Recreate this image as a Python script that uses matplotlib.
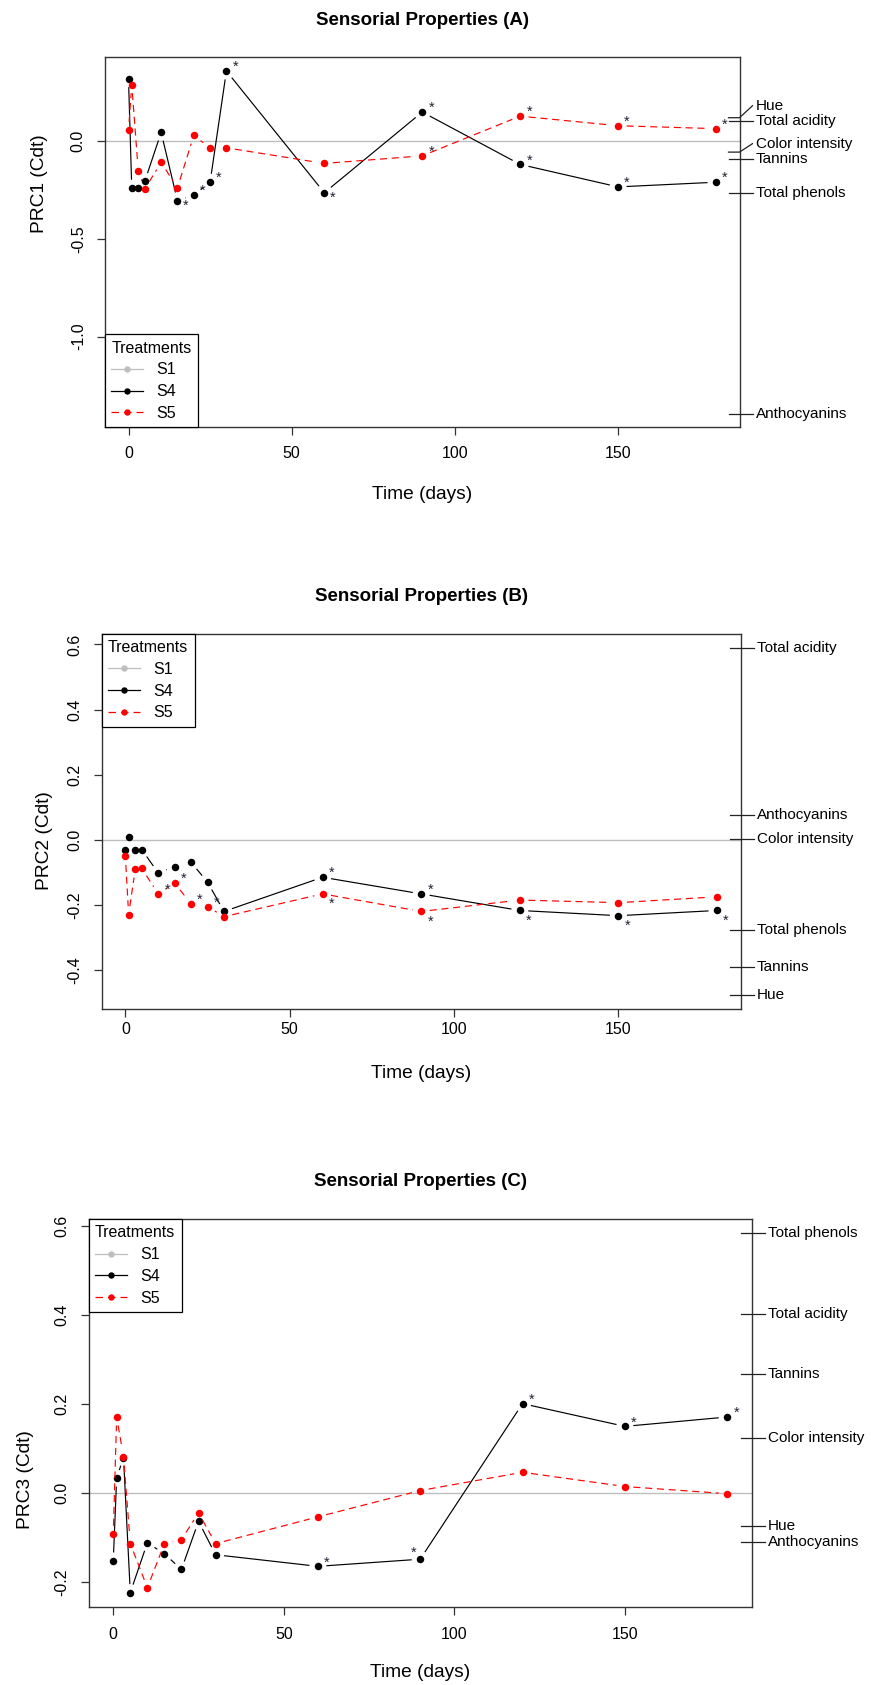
import numpy as np
import matplotlib
matplotlib.use("Agg")
import matplotlib.pyplot as plt
from matplotlib.collections import LineCollection
from matplotlib.lines import Line2D
from matplotlib.transforms import IdentityTransform

plt.rcParams['font.family'] = ['Liberation Sans', 'DejaVu Sans']

# ---------------- data ----------------
times = [0, 1, 3, 5, 10, 15, 20, 25, 30, 60, 90, 120, 150, 180]
treatments = ['S1', 'S4', 'S5']
xticks = [0, 50, 100, 150]

# Panel A (PRC1)
prc1_s4 = [0.320, -0.241, -0.241, -0.205, 0.045, -0.305, -0.274, -0.210, 0.359,
           -0.264, 0.149, -0.119, -0.234, -0.210]
prc1_s5 = [0.056, 0.289, -0.155, -0.244, -0.109, -0.239, 0.029, -0.034, -0.034,
           -0.114, -0.075, 0.128, 0.079, 0.064]
prc1_species = ['Hue', 'Total acidity', 'Color intensity', 'Tannins',
                'Total phenols', 'Anthocyanins']
prc1_scores = [0.120, 0.102, -0.056, -0.092, -0.263, -1.394]
prc1_yticks = [-1.0, -0.5, 0.0]
prc1_sig_s4 = [(15, 'r'), (20, 'ur'), (25, 'ur'), (30, 'ur'), (60, 'r'),
               (90, 'ur'), (120, 'ur'), (150, 'ur'), (180, 'ur')]
prc1_sig_s5 = [(90, 'ur'), (120, 'ur'), (150, 'ur'), (180, 'ur')]

# Panel B (PRC2)
prc2_s4 = [-0.032, 0.010, -0.030, -0.030, -0.102, -0.082, -0.069, -0.130, -0.220,
           -0.115, -0.166, -0.217, -0.233, -0.217]
prc2_s5 = [-0.051, -0.230, -0.090, -0.088, -0.166, -0.133, -0.197, -0.205, -0.236,
           -0.166, -0.220, -0.185, -0.193, -0.175]
prc2_species = ['Total acidity', 'Anthocyanins', 'Color intensity',
                'Total phenols', 'Tannins', 'Hue']
prc2_scores = [0.590, 0.076, 0.001, -0.276, -0.391, -0.476]
prc2_yticks = [-0.4, -0.2, 0.0, 0.2, 0.4, 0.6]
prc2_sig_s4 = [(60, 'ur'), (90, 'ur'), (120, 'lr'), (150, 'lr'), (180, 'lr')]
prc2_sig_s5 = [(10, 'ur'), (15, 'ur'), (20, 'ur'), (25, 'ur'), (60, 'lr'), (90, 'lr')]

# Panel C (PRC3)
prc3_s4 = [-0.152, 0.034, 0.080, -0.223, -0.111, -0.136, -0.171, -0.063, -0.138,
           -0.164, -0.148, 0.201, 0.150, 0.171]
prc3_s5 = [-0.092, 0.171, 0.082, -0.113, -0.212, -0.113, -0.104, -0.044, -0.113,
           -0.053, 0.006, 0.047, 0.015, -0.001]
prc3_species = ['Total phenols', 'Total acidity', 'Tannins', 'Color intensity',
                'Hue', 'Anthocyanins']
prc3_scores = [0.583, 0.402, 0.267, 0.123, -0.074, -0.109]
prc3_yticks = [-0.2, 0.0, 0.2, 0.4, 0.6]
prc3_sig_s4 = [(60, 'ur'), (90, 'ul'), (120, 'ur'), (150, 'ur'), (180, 'ur')]
prc3_sig_s5 = []

# ---------------- style / layout ----------------
W, H, DPI = 871, 1685, 100
COL_S1, COL_S4, COL_S5 = '#BEBEBE', 'black', 'red'
DASH = (0, (6, 4))
GAP = 8.5          # px gap around points (R type="b")
STACK_H = 15.5     # px min distance between right labels
AST_OFF = {'ur': (9, 7), 'lr': (9, -7), 'r': (8, -2), 'ul': (-7, 9)}

fig = plt.figure(figsize=(W / DPI, H / DPI), dpi=DPI)
fig.patch.set_facecolor('white')


def add_axes_px(L, T, R, B):
    return fig.add_axes([L / W, 1 - B / H, (R - L) / W, (B - T) / H])


def gapped(ax, x, y, color, ls, z):
    pts = ax.transData.transform(np.column_stack([x, y]))
    inv = ax.transData.inverted()
    segs = []
    for p0, p1 in zip(pts[:-1], pts[1:]):
        d = p1 - p0
        L = np.hypot(*d)
        if L <= 2 * GAP:
            continue
        u = d / L
        segs.append(inv.transform(np.array([p0 + u * GAP, p1 - u * GAP])))
    lc = LineCollection(segs, colors=color, linewidths=0.85, linestyles=[ls], zorder=z)
    ax.add_collection(lc)


def panel(rect, title, ylabel, s4, s5, sp_names, sp_scores, yticks, sig4, sig5,
          legend_loc, ylab_px, xlab_off, tick_off):
    L, T, R, B = rect
    ax = add_axes_px(L, T, R, B)
    wpx, hpx = R - L, B - T
    allv = list(s4) + list(s5) + list(sp_scores) + [0.0]
    lo, hi = min(allv), max(allv)
    pad = 0.04 * (hi - lo)
    ax.set_ylim(lo - pad, hi + pad)
    ax.set_xlim(min(times) - 0.04 * (max(times) - min(times)),
                max(times) + 0.04 * (max(times) - min(times)))

    for s in ax.spines.values():
        s.set_color('#333333')
        s.set_linewidth(1.0)

    ax.axhline(0, color=COL_S1, lw=1.0, zorder=1)

    gapped(ax, times, s4, COL_S4, 'solid', 2)
    ax.plot(times, s4, 'o', color=COL_S4, ms=5.4, mew=0, zorder=3)
    gapped(ax, times, s5, COL_S5, DASH, 4)
    ax.plot(times, s5, 'o', color=COL_S5, ms=5.4, mew=0, zorder=5)

    for sig, series in ((sig4, s4), (sig5, s5)):
        for t, code in sig:
            i = times.index(t)
            dx, dy = AST_OFF[code]
            ax.annotate('*', xy=(t, series[i]), xytext=(dx * 0.72, (dy - 7) * 0.72),
                        textcoords='offset points', ha='center', va='baseline',
                        fontsize=10.5, color='#222233', zorder=6)

    ax.set_xticks(xticks)
    ax.set_xticklabels([str(v) for v in xticks])
    ax.set_yticks(yticks)
    ax.set_yticklabels(['%.1f' % v for v in yticks], rotation=90, va='center')
    ax.tick_params(axis='y', labelsize=11.5, length=5.8, width=0.9, color='#333333', pad=8)
    tick_pad_px = tick_off - 8 - 8.6
    ax.tick_params(axis='x', labelsize=11.5, length=5.8, width=0.9, color='#333333',
                   pad=tick_pad_px * 0.72)

    ax.text(0.5, 1 + 37 / hpx, title, transform=ax.transAxes, ha='center',
            va='center', fontsize=13.5, fontweight='bold')
    ax.text(0.5, -xlab_off / hpx, 'Time (days)', transform=ax.transAxes,
            ha='center', va='center', fontsize=13.8)
    ax.text((ylab_px[0] - L) / wpx, 1 - (ylab_px[1] - T) / hpx, ylabel,
            transform=ax.transAxes, rotation=90, ha='center', va='center',
            fontsize=13.8)

    handles = [
        Line2D([], [], color=COL_S1, marker='o', ms=4.6, mew=0, lw=0.9),
        Line2D([], [], color=COL_S4, marker='o', ms=4.6, mew=0, lw=0.9),
        Line2D([], [], color=COL_S5, marker='o', ms=4.6, mew=0, lw=0.9, ls=DASH),
    ]
    leg = ax.legend(handles, treatments, loc=legend_loc, title='Treatments',
                    fontsize=11.5, title_fontsize=11.5, frameon=True, fancybox=False,
                    borderaxespad=0, borderpad=0.4, labelspacing=0.42,
                    handlelength=2.0, handletextpad=0.8, alignment='left')
    leg.get_frame().set_edgecolor('black')
    leg.get_frame().set_linewidth(0.9)
    leg.get_frame().set_alpha(1)
    leg.set_zorder(10)

    # species scores on right side (linestack-like)
    xr = ax.transAxes.transform((1, 0))[0]
    yd = np.array([ax.transData.transform((0, v))[1] for v in sp_scores])
    order = np.argsort(yd)
    ylab = yd.copy()
    prev = None
    for k in order:
        if prev is not None and ylab[k] - prev < STACK_H:
            ylab[k] = prev + STACK_H
        prev = ylab[k]
    for name, y0, y1 in zip(sp_names, yd, ylab):
        fig.add_artist(Line2D([xr - 11, xr, xr + 13], [y0, y0, y1],
                              transform=IdentityTransform(), color='#222222',
                              lw=0.9, clip_on=False))
        fig.text(xr + 16, y1, name, transform=IdentityTransform(), ha='left',
                 va='center', fontsize=11)
    return ax


panel((105, 57.3, 739.5, 427.3), 'Sensorial Properties (A)', 'PRC1 (Cdt)',
      prc1_s4, prc1_s5, prc1_species, prc1_scores, prc1_yticks,
      prc1_sig_s4, prc1_sig_s5, 'lower left', (40, 184), 67, 27)
panel((101.7, 633.8, 740.7, 1008.7), 'Sensorial Properties (B)', 'PRC2 (Cdt)',
      prc2_s4, prc2_s5, prc2_species, prc2_scores, prc2_yticks,
      prc2_sig_s4, prc2_sig_s5, 'upper left', (44, 841), 65, 22)
panel((88.7, 1219, 751.7, 1607), 'Sensorial Properties (C)', 'PRC3 (Cdt)',
      prc3_s4, prc3_s5, prc3_species, prc3_scores, prc3_yticks,
      prc3_sig_s4, prc3_sig_s5, 'upper left', (26, 1480), 65, 29)

fig.savefig('out.png', dpi=DPI, facecolor='white')
